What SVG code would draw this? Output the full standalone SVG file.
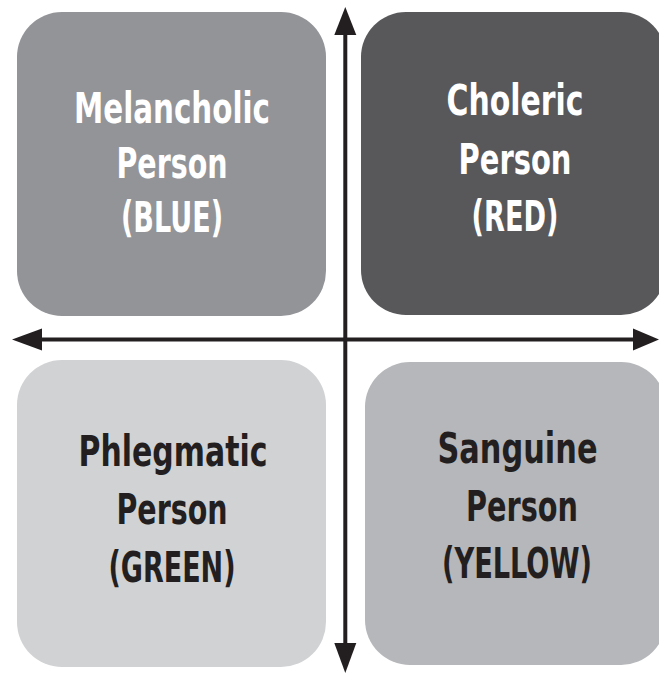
<svg xmlns="http://www.w3.org/2000/svg" width="659" height="673" viewBox="0 0 659 673">
<style>
.box{stroke:none}
.lbl{font-family:"Liberation Sans Narrow","DejaVu Sans Condensed","Liberation Sans",sans-serif;font-stretch:condensed;font-weight:bold;font-size:42px;text-anchor:middle}
.lt{fill:#ffffff}
.dk{fill:#231f20}
.ax{stroke:#231f20;stroke-width:4;fill:none}
.hd{fill:#231f20}
</style>
<rect width="659" height="673" fill="#ffffff"/>
<g id="melancholic">
<rect class="box" x="17" y="12" width="309" height="304" rx="45" ry="45" fill="#939498"/>
<text class="lbl lt" x="172" y="123" textLength="196" lengthAdjust="spacingAndGlyphs">Melancholic</text>
<text class="lbl lt" x="172" y="178" textLength="111" lengthAdjust="spacingAndGlyphs">Person</text>
<text class="lbl lt" x="172" y="232" textLength="102" lengthAdjust="spacingAndGlyphs">(BLUE)</text>
</g>
<g id="choleric">
<rect class="box" x="361" y="12" width="305" height="303" rx="45" ry="45" fill="#58585b"/>
<text class="lbl lt" x="515" y="115" textLength="137" lengthAdjust="spacingAndGlyphs">Choleric</text>
<text class="lbl lt" x="515" y="174" textLength="113" lengthAdjust="spacingAndGlyphs">Person</text>
<text class="lbl lt" x="515" y="231" textLength="87" lengthAdjust="spacingAndGlyphs">(RED)</text>
</g>
<g id="phlegmatic">
<rect class="box" x="17" y="360" width="309" height="307" rx="45" ry="45" fill="#d1d2d4"/>
<text class="lbl dk" x="173" y="466" textLength="189" lengthAdjust="spacingAndGlyphs">Phlegmatic</text>
<text class="lbl dk" x="172" y="524" textLength="111" lengthAdjust="spacingAndGlyphs">Person</text>
<text class="lbl dk" x="172" y="582" textLength="127" lengthAdjust="spacingAndGlyphs">(GREEN)</text>
</g>
<g id="sanguine">
<rect class="box" x="365" y="362" width="301" height="303" rx="45" ry="45" fill="#b6b7ba"/>
<text class="lbl dk" x="517.5" y="463" textLength="160" lengthAdjust="spacingAndGlyphs">Sanguine</text>
<text class="lbl dk" x="522" y="521" textLength="112" lengthAdjust="spacingAndGlyphs">Person</text>
<text class="lbl dk" x="517" y="578" textLength="150" lengthAdjust="spacingAndGlyphs">(YELLOW)</text>
</g>
<g id="connectors">
<line class="ax" x1="345.3" y1="30" x2="345.3" y2="648"/>
<line class="ax" x1="38" y1="339.5" x2="638" y2="339.5"/>
<polygon class="hd" points="345.3,7 356.3,35 334.3,35"/>
<polygon class="hd" points="345.3,673 356.3,643 334.3,643"/>
<polygon class="hd" points="12,339.5 42,328.5 42,350.5"/>
<polygon class="hd" points="659,339.5 633,328.5 633,350.5"/>
</g>
</svg>
